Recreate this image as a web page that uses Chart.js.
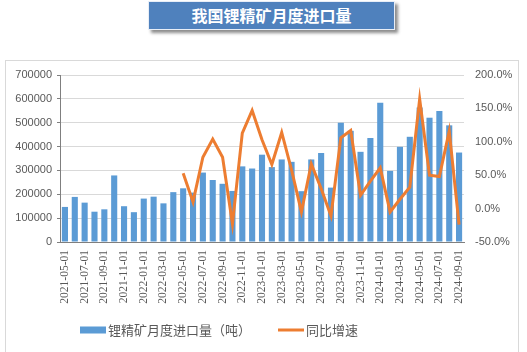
<!DOCTYPE html>
<html>
<head>
<meta charset="utf-8">
<script src="https://cdn.jsdelivr.net/npm/chart.js@4/dist/chart.umd.min.js"></script>
<style>
    body { margin: 0; width: 527px; height: 352px; background: #fff; position: relative; overflow: hidden; }
    #frame { position: absolute; left: 5px; top: 60px; width: 514px; height: 300px; border: 1px solid #d9d9d9; box-sizing: border-box; }
    #title { position: absolute; left: 148px; top: 1px; width: 247px; height: 29px; background: #4f81bd; border: 1px solid #e8eef7; box-sizing: border-box;
             box-shadow: 3px 3px 3px rgba(0,0,0,0.45); color: #fff; font: bold 16px "Noto Sans CJK SC", sans-serif; text-align: center; line-height: 27px; }
    #wrap { position: absolute; left: 0; top: 0; width: 527px; height: 352px; }
</style>
</head>
<body>
<div id="frame"></div>
<div id="title">我国锂精矿月度进口量</div>
<div id="wrap"><canvas id="chart"></canvas></div>
<script>
const months = [
    '2021-05-01', '2021-06-01', '2021-07-01', '2021-08-01', '2021-09-01', '2021-10-01', '2021-11-01', '2021-12-01',
    '2022-01-01', '2022-02-01', '2022-03-01', '2022-04-01', '2022-05-01', '2022-06-01', '2022-07-01', '2022-08-01',
    '2022-09-01', '2022-10-01', '2022-11-01', '2022-12-01', '2023-01-01', '2023-02-01', '2023-03-01', '2023-04-01',
    '2023-05-01', '2023-06-01', '2023-07-01', '2023-08-01', '2023-09-01', '2023-10-01', '2023-11-01', '2023-12-01',
    '2024-01-01', '2024-02-01', '2024-03-01', '2024-04-01', '2024-05-01', '2024-06-01', '2024-07-01', '2024-08-01',
    '2024-09-01'
];

// 锂精矿月度进口量（吨）
const imports = [
    147000, 189000, 165000, 127000, 137000, 279000, 150000, 125000,
    182000, 190000, 162000, 209000, 225000, 207000, 291000, 260000,
    244000, 214000, 317000, 308000, 366000, 314000, 346000, 336000,
    213000, 346000, 373000, 228000, 500000, 466000, 378000, 436000,
    584000, 298000, 399000, 441000, 564000, 521000, 549000, 489000,
    375000
];

// 同比增速 (%)
const growth = [
    null, null, null, null, null, null, null, null,
    null, null, null, null, 53, 10, 77, 104,
    77, -23, 113, 147, 103, 66, 114, 58,
    -5, 67, 30, -11, 106, 117, 20, 41,
    61, -5, 14, 32, 164, 50, 48, 116,
    -24
];

const leftTicks = [0, 700000, 100000];
const rightTicks = [-50, 200, 50];

const barColor = '#5b9bd5';
const lineColor = '#ed7d31';
const textColor = '#595959';

// simple legend drawn under the axis labels
const legendPlugin = {
    id: 'bottomLegend',
    afterDraw(chart) {
        const ctx = chart.ctx;
        const y = 330;
        let x = 80;
        ctx.save();
        ctx.font = '13px "Noto Sans CJK SC", sans-serif';
        ctx.textBaseline = 'middle';
        chart.data.datasets.forEach(function (ds) {
            if (ds.type === 'line') {
                ctx.strokeStyle = ds.borderColor;
                ctx.lineWidth = 3;
                ctx.beginPath();
                ctx.moveTo(x, y);
                ctx.lineTo(x + 26, y);
                ctx.stroke();
            } else {
                ctx.fillStyle = ds.backgroundColor;
                ctx.fillRect(x, y - 3.5, 26, 7);
            }
            ctx.fillStyle = textColor;
            ctx.fillText(ds.label, x + 28, y);
            x += 28 + ctx.measureText(ds.label).width + 27;
        });
        ctx.restore();
    }
};

function drawChart() {
    const ctx = document.getElementById('chart').getContext('2d');
    new Chart(ctx, {
        data: {
            labels: months,
            datasets: [{
                type: 'bar',
                label: '锂精矿月度进口量（吨）',
                data: imports,
                yAxisID: 'y',
                backgroundColor: barColor,
                barPercentage: 0.62,
                categoryPercentage: 1,
                order: 1
            }, {
                type: 'line',
                label: '同比增速',
                data: growth,
                yAxisID: 'y1',
                borderColor: lineColor,
                backgroundColor: lineColor,
                borderWidth: 3,
                pointRadius: 0,
                tension: 0,
                order: 0
            }]
        },
        options: {
            responsive: false,
            animation: false,
            layout: { padding: { top: 75, left: 0, right: 0, bottom: 0 } },
            plugins: {
                legend: { display: false },
                tooltip: { enabled: false }
            },
            scales: {
                x: {
                    offset: true,
                    grid: { display: false, drawTicks: false },
                    border: { display: true, color: '#7f7f7f', width: 1 },
                    ticks: {
                        autoSkip: false,
                        maxRotation: 90,
                        minRotation: 90,
                        padding: 8,
                        color: textColor,
                        font: { family: '"Liberation Serif", serif', size: 11.5 },
                        callback: function (v, i) { return i % 2 === 0 ? months[i] : ''; }
                    },
                    afterFit: function (s) { s.height = 110; }
                },
                y: {
                    position: 'left',
                    min: leftTicks[0],
                    max: leftTicks[1],
                    grid: { color: '#d9d9d9', tickColor: '#7f7f7f', tickLength: 3 },
                    border: { display: true, color: '#7f7f7f' },
                    ticks: {
                        stepSize: leftTicks[2],
                        padding: 5,
                        color: textColor,
                        font: { family: '"Liberation Sans", sans-serif', size: 11 },
                        callback: function (v) { return String(v); }
                    },
                    afterFit: function (s) { s.width = 60; }
                },
                y1: {
                    position: 'right',
                    min: rightTicks[0],
                    max: rightTicks[1],
                    grid: { display: false, drawTicks: false },
                    border: { display: false },
                    ticks: {
                        stepSize: rightTicks[2],
                        padding: 11,
                        color: textColor,
                        font: { family: '"Liberation Sans", sans-serif', size: 11 },
                        callback: function (v) { return v.toFixed(1) + '%'; }
                    },
                    afterFit: function (s) { s.width = 63; }
                }
            }
        },
        plugins: [legendPlugin]
    });
}

document.getElementById('chart').width = 527;
document.getElementById('chart').height = 352;
drawChart();
</script>
</body>
</html>
